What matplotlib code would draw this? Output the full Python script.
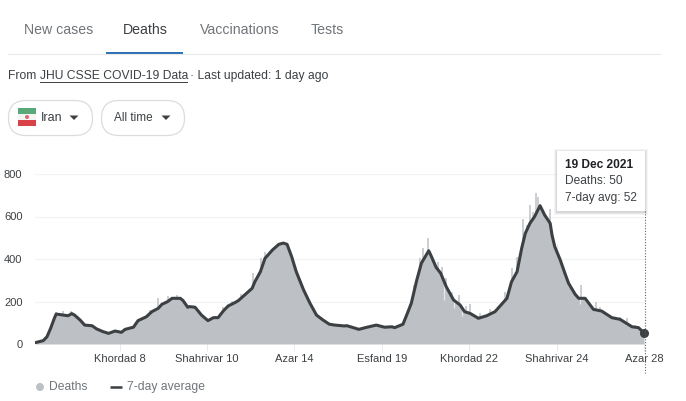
import matplotlib
matplotlib.use("Agg")
import matplotlib.pyplot as plt
from matplotlib.patches import FancyBboxPatch, Rectangle, Polygon, Circle

plt.rcParams['font.family'] = ['Liberation Sans', 'DejaVu Sans']

avg_days = [0,9,13,17,21,23,31,36,40,43,49,54,62,67,74,80,87,94,98,107,112,121,127,134,138,144,149,158,161,166,168,174,181,188,194,199,205,210,217,221,228,236,239,245,250,258,265,270,274,279,284,292,299,306,313,320,326,336,339,346,352,361,371,380,388,391,400,404,409,415,420,428,431,436,441,447,455,462,467,473,482,491,500,513,518,524,529,533,538,543,549,554,560,562,565,571,576,580,587,591,598,607,616,627,636,649,656,662]
avg_values = [6,16,34,74,121,141,136,133,143,136,113,89,86,71,58,50,61,55,69,79,110,128,152,168,187,199,215,215,204,173,176,173,136,110,124,124,157,179,194,204,231,262,293,340,403,442,469,475,469,411,340,254,191,136,113,93,89,85,86,77,69,79,89,79,81,77,93,136,191,301,380,439,411,361,333,270,207,184,152,144,121,133,152,215,293,340,450,521,568,599,651,607,568,513,458,395,333,286,235,215,215,163,155,124,116,81,77,52]
spike_days = [23,30,39,125,134,145,154,204,214,224,237,246,250,408,412,418,422,427,438,442,447,453,461,468,473,484,495,511,518,524,527,530,535,538,541,545,547,560,594,610,614,636,644,652]
spike_values = [152,157,157,160,215,226,231,176,204,235,335,404,434,188,278,404,450,497,384,364,310,246,230,180,187,145,165,246,356,411,420,588,560,654,620,709,693,635,276,196,176,128,122,89]
dip_days = [445,456,464,567,592]
dip_low = [207,170,130,420,190]
dip_high = [290,215,175,470,215]
tick_days = [92,187,282,377,472,567,662]
tick_labels = ["Khordad 8","Shahrivar 10","Azar 14","Esfand 19","Khordad 22","Shahrivar 24","Azar 28"]
y_ticks = [0,200,400,600,800]
tabs = ["New cases","Deaths","Vaccinations","Tests"]
tab_x = [24,123,200,311]
last_day, last_avg = avg_days[-1], avg_values[-1]

W, H = 686, 401
fig = plt.figure(figsize=(W/100, H/100), dpi=100, facecolor='white')

# page chrome, in pixel coordinates
bg = fig.add_axes([0,0,1,1]); bg.set_xlim(0,W); bg.set_ylim(H,0); bg.axis('off')
for t,x in zip(tabs,tab_x):
    bg.text(x,30.5,t,fontsize=10.2,color='#3c4043' if t=="Deaths" else '#70757a',va='center')
bg.plot([8,660],[54,54],color='#ebebeb',lw=0.8)
bg.add_patch(Rectangle((106,51.5),77,2.5,color='#2b70b2',lw=0))
bg.text(8,76,"From ",fontsize=8.75,color='#3c4043',va='center')
bg.text(40,76,"JHU CSSE COVID-19 Data",fontsize=8.75,color='#3c4043',va='center')
bg.plot([40,187],[81.5,81.5],color='#3c4043',lw=0.7)
bg.text(190,76,"· Last updated: 1 day ago",fontsize=8.75,color='#3c4043',va='center')
for x0,x1 in [(8.5,92.5),(101.5,184.5)]:
    bg.add_patch(FancyBboxPatch((x0+17.5,100.5+17.5),x1-x0-35,0.01,boxstyle="round,pad=17.5",fc='white',ec='#dadce0',lw=0.9))
bg.add_patch(Rectangle((18,108),18,6,color='#5aa87a',lw=0))
bg.add_patch(Rectangle((18,114),18,6,color='#f6f3f3',lw=0))
bg.add_patch(Rectangle((18,120),18,6,color='#d8434a',lw=0))
bg.add_patch(Circle((27,117),2,fc='#d8696e',ec='none'))
bg.text(41,118,"Iran",fontsize=9,color='#3c4043',va='center')
bg.text(114,118,"All time",fontsize=8.5,color='#3c4043',va='center')
for x in (74,166):
    bg.add_patch(Polygon([[x-4.5,115.5],[x+4.5,115.5],[x,120]],color='#3c4043',lw=0))
bg.add_patch(Circle((40,387),4,fc='#bdc1c6',ec='none'))
bg.text(49,387,"Deaths",fontsize=8.7,color='#70757a',va='center')
bg.plot([110,122],[387,387],color='#3c4043',lw=1.8,solid_capstyle='butt')
bg.text(127,387,"7-day average",fontsize=8.7,color='#70757a',va='center')

# chart
L,R,T,B = 35,644,174,344
ax = fig.add_axes([L/W,1-B/H,(R-L)/W,(B-T)/H])
ax.patch.set_alpha(0)
ax.set_xlim(0,last_day); ax.set_ylim(0,800)
for s in ax.spines.values(): s.set_visible(False)
ax.set_yticks(y_ticks); ax.set_xticks(tick_days); ax.set_xticklabels(tick_labels)
ax.tick_params(axis='y',length=0,labelsize=8,labelcolor='#3c4043',pad=9)
ax.tick_params(axis='x',length=5,width=0.7,color='#e8eaed',labelsize=8,labelcolor='#3c4043',pad=2)
ax.grid(axis='y',color='#f1f3f4',lw=0.9); ax.set_axisbelow(True)
ax.fill_between(avg_days,0,avg_values,color='#bdc1c6',lw=0,zorder=2)
ax.vlines(spike_days,0,spike_values,color='#bdc1c6',lw=1.1,zorder=2)
ax.vlines(dip_days,dip_low,dip_high,color='#e6e8ea',lw=0.9,zorder=2.5)
ax.plot(avg_days,avg_values,color='#3c4043',lw=2.2,zorder=3,solid_joinstyle='round')
ax.plot([last_day],[last_avg],'o',ms=5.5,color='#3c4043',clip_on=False,zorder=4)

# tooltip & cursor
fg = fig.add_axes([0,0,1,1]); fg.set_xlim(0,W); fg.set_ylim(H,0); fg.axis('off'); fg.patch.set_alpha(0)
fg.plot([644.5,644.5],[211,373],color='#5f6368',lw=0.8,ls=(0,(1,1.5)))
for i,a in enumerate((0.04,0.05,0.07)):
    d=3-i
    fg.add_patch(Rectangle((557-d,151-d+1),88+2*d,60+2*d,fc='black',alpha=a,lw=0))
fg.add_patch(Rectangle((557,151),88,60,fc='white',lw=0))
fg.text(565,164.5,"19 Dec 2021",fontsize=8.6,fontweight='bold',color='#202124',va='center')
fg.text(565,181.5,"Deaths: 50",fontsize=8.6,color='#3c4043',va='center')
fg.text(565,197.5,"7-day avg: 52",fontsize=8.6,color='#3c4043',va='center')

fig.savefig('out.png',dpi=100,facecolor='white')
